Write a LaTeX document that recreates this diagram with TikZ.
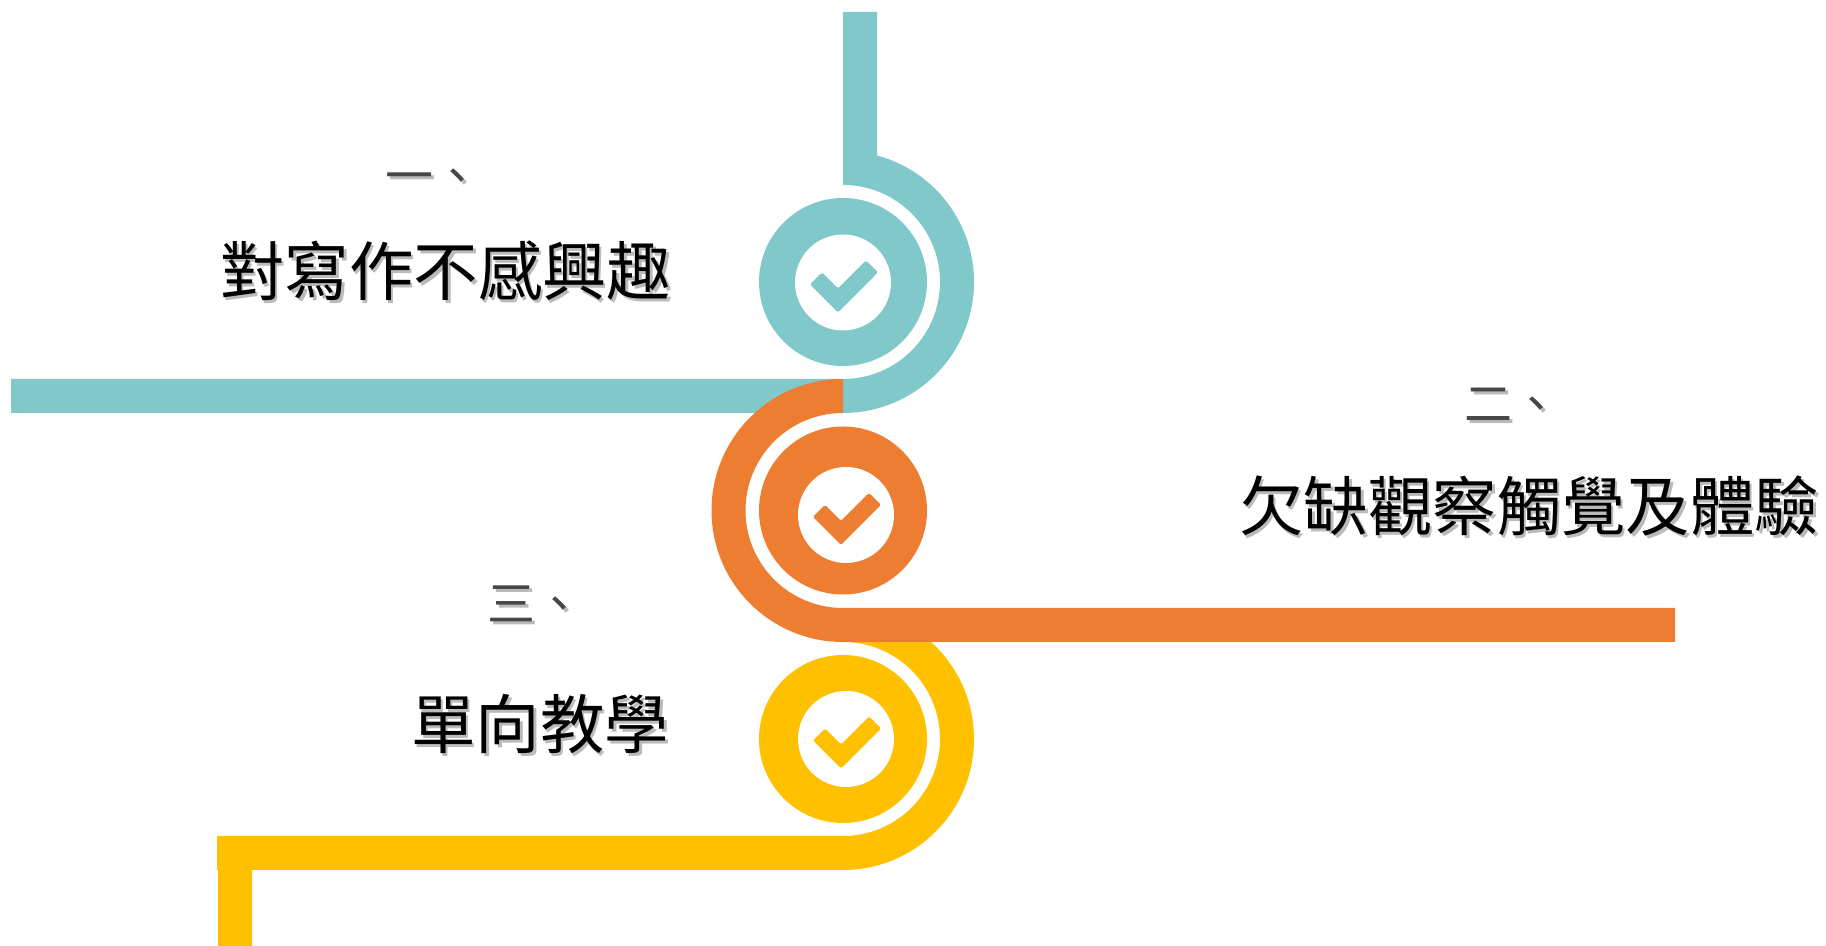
\documentclass[tikz,border=0pt]{standalone}
\usepackage{fontspec}
\newfontfamily\cjk{Noto Sans CJK TC}
\definecolor{tealc}{HTML}{80C8C9}
\definecolor{orangec}{HTML}{ED7D31}
\definecolor{yellowc}{HTML}{FFC000}
\tikzset{
  x=0.5pt,y=0.5pt,
  disk/.style={circle,inner sep=0pt,minimum size=84pt},
  hole/.style={circle,inner sep=0pt,minimum size=48pt,fill=white},
  tick/.style={rounded corners=0.8pt},
  head/.style={anchor=base west,inner sep=0pt,text=black!72,font=\cjk\fontsize{24pt}{24pt}\selectfont},
  body/.style={anchor=base west,inner sep=0pt,text=black,font=\cjk\fontsize{32.2pt}{32pt}\selectfont},
  shade/.style={text=black!45,opacity=0.6}
}
\newcommand{\tickmark}[2]{\fill[tick,#1] (#2) -- ++(-28,28) -- ++(12,12) -- ++(16,-16) -- ++(28,28) -- ++(12,-12) -- cycle;}
\begin{document}
\begin{tikzpicture}
\useasboundingbox (0,0) rectangle (1826,946);
% ribbons
\fill[tealc] (843,934) -- (877,934) -- (877,790.5) arc[start angle=74.96,end angle=-90,radius=131]
  -- (11,533) -- (11,567) -- (843,567) arc[start angle=-90,end angle=90,radius=97] -- cycle;
\fill[yellowc] (843,338) arc[start angle=90,end angle=-90,radius=131]
  -- (252,76) -- (252,0) -- (218,0) -- (218,76) -- (217,76) -- (217,110) -- (843,110)
  arc[start angle=-90,end angle=90,radius=97] -- cycle;
\fill[orangec] (843,567) arc[start angle=90,end angle=270,radius=131.5]
  -- (1675,304) -- (1675,338) -- (843,338) arc[start angle=270,end angle=90,radius=97.5] -- cycle;
% badges
\node[disk,fill=tealc] (d1) at (843,664) {};
\node[hole] (h1) at (843,663.5) {};
\tickmark{tealc}{838,633.5}
\node[disk,fill=orangec] (d2) at (843,435.5) {};
\node[hole] (h2) at (846,431) {};
\tickmark{orangec}{841,401}
\node[disk,fill=yellowc] (d3) at (843,207) {};
\node[hole] (h3) at (846,207) {};
\tickmark{yellowc}{841,177.5}
% texts
\node[head,shade] (s1a) at (388,749.5) {一、};
\node[head] (t1a) at (385.5,752) {一、};
\node[body,shade] (s1b) at (222.5,647.5) {對寫作不感興趣};
\node[body] (t1b) at (220,650) {對寫作不感興趣};
\node[head,shade] (s2a) at (1467,521.5) {二、};
\node[head] (t2a) at (1464.5,524) {二、};
\node[body,shade] (s2b) at (1241.5,412.5) {欠缺觀察觸覺及體驗};
\node[body] (t2b) at (1239,415) {欠缺觀察觸覺及體驗};
\node[head,shade] (s3a) at (490,321.5) {三、};
\node[head] (t3a) at (487.5,324) {三、};
\node[body,shade] (s3b) at (413.5,194.5) {單向教學};
\node[body] (t3b) at (411,197) {單向教學};
\end{tikzpicture}
\end{document}
